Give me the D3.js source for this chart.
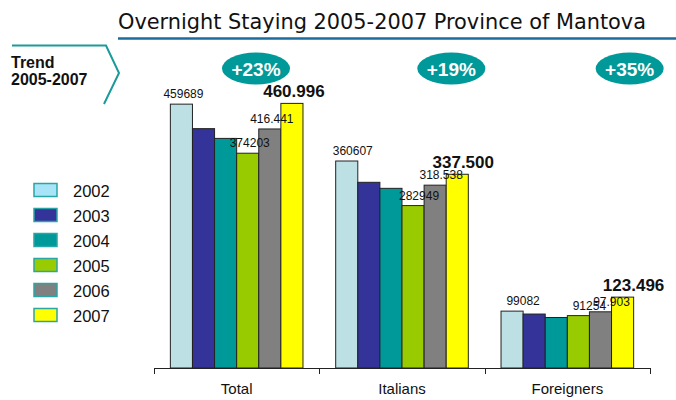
<!DOCTYPE html>
<html><head><meta charset="utf-8">
<script src="https://cdn.jsdelivr.net/npm/d3@7"></script>
<style>body{margin:0;background:#fff}svg{display:block}</style>
</head><body>
<svg id="c" width="676" height="400"></svg>
<script>
const categories = ["Total", "Italians", "Foreigners"];
const years = ["2002", "2003", "2004", "2005", "2006", "2007"];
const s2002 = [459689, 360607, 99082];
const s2003 = [417000, 323500, 94000];
const s2004 = [400000, 313000, 88000];
const s2005 = [374203, 282949, 91254];
const s2006 = [416441, 318538, 97903];
const s2007 = [460996, 337500, 123496];
const growth = ["+23%", "+19%", "+35%"];
const barColors = ["#bce0e4", "#333399", "#009999", "#99cc00", "#808080", "#ffff00"];
const legendColors = ["#a8e4f8", "#333399", "#009999", "#99cc00", "#808080", "#ffff00"];
// label style per year: none, plain, dotted, bold
const labelStyle = ["plain", "none", "none", "plain", "dotted", "bold"];
const labelDx = [2, 6, 11];
const pillDx = [102, 132, 145];

const series = [s2002, s2003, s2004, s2005, s2006, s2007];
const svg = d3.select("#c");
const font = "'Liberation Sans', Arial, sans-serif";

// title
svg.append("text").attr("x", 118).attr("y", 29)
  .attr("font-family", "'DejaVu Sans Condensed', 'DejaVu Sans', sans-serif")
  .attr("font-size", 21).attr("fill", "#111")
  .attr("textLength", 528).attr("lengthAdjust", "spacingAndGlyphs")
  .text("Overnight Staying 2005-2007 Province of Mantova");
svg.append("line").attr("x1", 118).attr("x2", 676).attr("y1", 38.5).attr("y2", 38.5)
  .attr("stroke", "#1c6b9c").attr("stroke-width", 2.5);

// trend box
svg.append("path").attr("d", "M12,45.5 L106,45.5 L119,73 L104,104")
  .attr("fill", "none").attr("stroke", "#1a9a9a").attr("stroke-width", 2);
svg.append("text").attr("x", 11).attr("y", 68).attr("font-family", font)
  .attr("font-weight", "bold").attr("font-size", 16).attr("fill", "#111").text("Trend");
svg.append("text").attr("x", 11).attr("y", 85).attr("font-family", font)
  .attr("font-weight", "bold").attr("font-size", 16).attr("fill", "#111").text("2005-2007");

const x0 = d3.scaleBand().domain(categories).range([154, 650]).padding(0);
const x1 = d3.scaleBand().domain(years).range([0, x0.bandwidth()]).paddingInner(0).paddingOuter(0.74);
const y = d3.scaleLinear().domain([0, 500000]).range([368, 81]);

// bars
const g = svg.append("g");
years.forEach((yr, si) => {
  g.selectAll(".b" + yr).data(series[si]).enter().append("rect")
    .attr("x", (d, ci) => x0(categories[ci]) + x1(yr))
    .attr("y", d => y(d))
    .attr("width", x1.bandwidth())
    .attr("height", d => y(0) - y(d))
    .attr("fill", barColors[si])
    .attr("stroke", "#222").attr("stroke-width", 1);
});

// value labels
const fmtDot = v => d3.format(",")(v).replace(/,/g, ".");
years.forEach((yr, si) => {
  const st = labelStyle[si];
  if (st === "none") return;
  g.selectAll(".l" + yr).data(series[si]).enter().append("text")
    .attr("x", (d, ci) => x0(categories[ci]) + x1(yr) + x1.bandwidth() / 2 + labelDx[ci])
    .attr("y", d => y(d) - 6)
    .attr("text-anchor", "middle")
    .attr("font-family", font)
    .attr("font-size", st === "bold" ? 17 : 12)
    .attr("font-weight", st === "bold" ? "bold" : "normal")
    .attr("fill", "#111")
    .text(d => st === "plain" ? String(d) : fmtDot(d));
});

// growth pills
categories.forEach((c, ci) => {
  const cx = x0(c) + pillDx[ci];
  svg.append("ellipse").attr("cx", cx).attr("cy", 68.5).attr("rx", 34).attr("ry", 16)
    .attr("fill", "#009999");
  svg.append("text").attr("x", cx).attr("y", 75.5).attr("text-anchor", "middle")
    .attr("font-family", font).attr("font-weight", "bold").attr("font-size", 19)
    .attr("fill", "#fff").text(growth[ci]);
});

// axis
const axis = svg.append("g");
axis.append("line").attr("x1", 154).attr("x2", 650).attr("y1", y(0) + 0.5).attr("y2", y(0) + 0.5)
  .attr("stroke", "#222");
const tickXs = categories.map(c => x0(c)).concat([x0.range()[1]]);
axis.selectAll(".tk").data(tickXs).enter().append("line")
  .attr("x1", d => Math.round(d) + 0.5).attr("x2", d => Math.round(d) + 0.5)
  .attr("y1", y(0)).attr("y2", y(0) + 6).attr("stroke", "#222");
axis.selectAll(".cl").data(categories).enter().append("text")
  .attr("x", d => x0(d) + x0.bandwidth() / 2).attr("y", 394)
  .attr("text-anchor", "middle").attr("font-family", font).attr("font-size", 15)
  .attr("fill", "#111").text(d => d);

// legend
const leg = svg.append("g");
years.forEach((yr, i) => {
  leg.append("rect").attr("x", 34).attr("y", 183.5 + i * 25).attr("width", 23).attr("height", 13)
    .attr("fill", legendColors[i]).attr("stroke", "#2aa5a5").attr("stroke-width", 1.5);
  leg.append("text").attr("x", 73).attr("y", 197 + i * 25).attr("font-family", font)
    .attr("font-size", 16.5).attr("fill", "#111").text(yr);
});
</script>
</body></html>
